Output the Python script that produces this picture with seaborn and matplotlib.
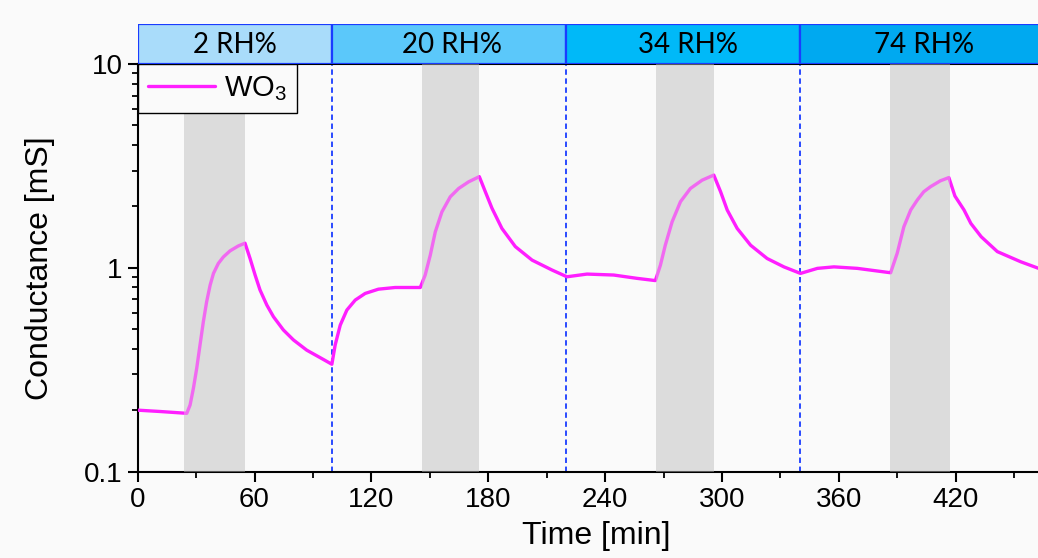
import numpy as np
import pandas as pd
import matplotlib
matplotlib.use("Agg")
import matplotlib.pyplot as plt
import seaborn as sns
from matplotlib.ticker import FixedLocator, NullFormatter, LogLocator

# ---- data ----
time_min = [0, 11.5, 21.7, 25.2, 26.9, 28.6, 30.3, 32.0, 33.7, 35.4, 37.2, 38.9, 41.4, 44.0, 47.4,
            51.7, 55.1, 57.7, 60.3, 62.8, 66.3, 69.7, 74.8, 80.0, 86.8, 93.7, 99.7,
            101.4, 104, 107.4, 111.7, 116.8, 123.6, 132.2, 145.1, 147.6, 150.2, 152.8, 156.2,
            160.5, 164.8, 169.9, 175.4, 178.5, 181.9, 187.0, 193.9, 202.5, 212.7, 220.4,
            230.7, 244.4, 256.4, 265.8, 268.4, 270.9, 274.4, 278.7, 283.8, 289.8, 295.8,
            299.3, 302.7, 307.8, 314.7, 323.2, 331.8, 340.3,
            349, 357.5, 369.5, 386.6, 390, 393.4, 396.9, 400.3, 403.6, 407.1, 412.1, 416.5,
            419.6, 424.3, 427.8, 433.1, 441.4, 453.4, 462.6]
conductance = [0.200, 0.197, 0.194, 0.193, 0.212, 0.256, 0.321, 0.418, 0.543, 0.681, 0.822, 0.938,
               1.05, 1.13, 1.21, 1.28, 1.32, 1.11, 0.92, 0.778, 0.656, 0.575, 0.495, 0.442,
               0.394, 0.362, 0.336,
               0.418, 0.523, 0.62, 0.694, 0.748, 0.785, 0.80, 0.80, 0.92, 1.15, 1.50, 1.88,
               2.23, 2.45, 2.64, 2.80, 2.36, 1.96, 1.56, 1.27, 1.09, 0.975, 0.903,
               0.931, 0.921, 0.887, 0.865, 1.03, 1.29, 1.68, 2.11, 2.45, 2.69, 2.85,
               2.36, 1.92, 1.56, 1.29, 1.11, 1.01, 0.938,
               0.993, 1.01, 0.993, 0.945, 1.18, 1.59, 1.92, 2.15, 2.36, 2.50, 2.67, 2.77,
               2.25, 1.92, 1.65, 1.42, 1.20, 1.07, 0.993]

rh_labels = ["2 RH%", "20 RH%", "34 RH%", "74 RH%"]
rh_bounds = [0, 100, 220, 340, 471]
rh_colors = ["#a9dcfa", "#5bc8fa", "#00b9f8", "#00a9f0"]
exposure_start = [24, 146, 266, 386.5]
exposure_end = [55, 175.5, 296, 417]
x_ticks = [0, 60, 120, 180, 240, 300, 360, 420]

df = pd.DataFrame({"Time": time_min, "Conductance": conductance})

sns.set_theme(style="ticks")
plt.rcParams["font.family"] = ["Liberation Sans", "DejaVu Sans"]
plt.rcParams["mathtext.fontset"] = "custom"
plt.rcParams["mathtext.rm"] = "Liberation Sans"
plt.rcParams["mathtext.it"] = "Liberation Sans:italic"
plt.rcParams["text.color"] = "black"
plt.rcParams["axes.labelcolor"] = "black"

W, H = 1038, 558
fig = plt.figure(figsize=(W / 100, H / 100), dpi=100, facecolor="#fafafa")

left_px, right_px, bottom_px, top_px = 137.7, 1055, 471.5, 64
ax = fig.add_axes([left_px / W, (H - bottom_px) / H, (right_px - left_px) / W, (bottom_px - top_px) / H])
ax.set_facecolor("#fafafa")

for s, e in zip(exposure_start, exposure_end):
    ax.axvspan(s, e, color="#dcdcdc", lw=0, zorder=1)
    ax.axvspan(s, e, color="#dcdcdc", lw=0, alpha=0.4, zorder=4)
for b in rh_bounds[1:-1]:
    ax.axvline(b, color="#1a3cff", lw=1.3, ls=(0, (3, 2)), zorder=2)

sns.lineplot(data=df, x="Time", y="Conductance", color="#ff1eff", lw=2.4, ax=ax,
             label="WO$_3$", zorder=3, sort=False)

ax.set_yscale("log")
ax.set_ylim(0.1, 10)
ax.set_xlim(0, rh_bounds[-1])
ax.set_xticks(x_ticks)
ax.set_xticklabels([str(v) for v in x_ticks])
ax.xaxis.set_minor_locator(FixedLocator(np.arange(30, 471, 60)))
ax.set_yticks([0.1, 1, 10])
ax.set_yticklabels(["0.1", "1", "10"])
ax.yaxis.set_minor_locator(LogLocator(base=10, subs=np.arange(2, 10)))
ax.yaxis.set_minor_formatter(NullFormatter())

ax.tick_params(axis="both", which="major", direction="out", length=7, width=1.5,
               labelsize=20, colors="black", labelcolor="black", pad=4)
ax.tick_params(axis="both", which="minor", direction="out", length=4, width=1.3, colors="black")
for sp in ["left", "bottom", "top"]:
    ax.spines[sp].set_color("black")
    ax.spines[sp].set_linewidth(1.5)
ax.spines["right"].set_visible(False)

ax.set_xlabel("Time [min]", fontsize=23, labelpad=6, color="black")
ax.set_ylabel("Conductance [mS]", fontsize=23, labelpad=21, color="black")

leg = ax.legend(loc="upper left", bbox_to_anchor=(0, 1), borderaxespad=0, fontsize=21,
                handlelength=2.3, handletextpad=0.3, borderpad=0.35, fancybox=False,
                framealpha=1, edgecolor="black", facecolor="#fafafa")
leg.get_frame().set_linewidth(1.0)
for t in leg.get_texts():
    t.set_color("black")

# header band with humidity levels
hax = fig.add_axes([left_px / W, (H - top_px) / H, (right_px - left_px) / W, 40 / H], sharex=ax)
hax.set_ylim(0, 1)
hax.axis("off")
label_x = [50, 161.5, 282.5, 404]
for i, lab in enumerate(rh_labels):
    x0, x1 = rh_bounds[i], rh_bounds[i + 1]
    hax.axvspan(x0, x1, ymin=0, ymax=1, facecolor=rh_colors[i], edgecolor="#1a3cff", lw=1.6)
    hax.text(label_x[i], 0.47, lab, ha="center", va="center",
             fontsize=20, family=["Lato", "DejaVu Sans"], color="black")

fig.savefig("out.png", dpi=100, facecolor=fig.get_facecolor())
